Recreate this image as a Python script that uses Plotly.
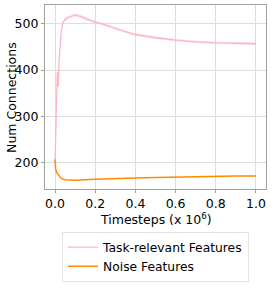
import plotly.graph_objects as go

# Task-relevant features (pink)
task_x = [0.0, 0.004, 0.008, 0.011, 0.013, 0.016, 0.02, 0.025, 0.03, 0.035, 0.04, 0.05, 0.07, 0.1,
          0.13, 0.15, 0.2, 0.25, 0.3, 0.35, 0.4, 0.5, 0.6, 0.7, 0.8, 0.9, 1.0]
task_y = [200, 290, 360, 392, 396, 364, 420, 458, 480, 495, 503, 510, 515, 519,
          516, 512, 504, 498, 490, 483, 477, 470, 465, 461, 459, 458, 457]
task_err = [4, 8, 10, 10, 10, 10, 8, 6, 5, 4, 4, 4, 4, 4,
            4, 4, 3, 3, 3, 3, 3, 3, 3, 3, 3, 3, 3]

# Noise features (orange)
noise_x = [0.0, 0.003, 0.008, 0.012, 0.02, 0.03, 0.05, 0.08, 0.1, 0.2, 0.3, 0.4, 0.5, 0.6, 0.7, 0.8, 0.9, 1.0]
noise_y = [206, 186, 178, 176, 170, 165, 162, 161, 161, 163, 165, 166, 167, 168, 169, 169.5, 170, 170]

x_ticks = [0.0, 0.2, 0.4, 0.6, 0.8, 1.0]
y_ticks = [200, 300, 400, 500]

PINK = "#ffb6c1"
ORANGE = "#ff8c00"
FONT = "DejaVu Sans"
FS = 12.5

fig = go.Figure()
fig.add_trace(go.Scatter(
    x=task_x + task_x[::-1],
    y=[v + e for v, e in zip(task_y, task_err)] + [v - e for v, e in zip(task_y[::-1], task_err[::-1])],
    fill="toself", fillcolor="rgba(255,182,193,0.35)", line=dict(width=0),
    hoverinfo="skip", showlegend=False))
fig.add_trace(go.Scatter(x=task_x, y=task_y, mode="lines", name="Task-relevant Features",
                         line=dict(color=PINK, width=1.3)))
fig.add_trace(go.Scatter(x=noise_x, y=noise_y, mode="lines", name="Noise Features",
                         line=dict(color=ORANGE, width=1.5)))

axis_common = dict(showline=True, linecolor="#a0a0a0", linewidth=1.2, mirror=True,
                   showgrid=True, gridcolor="#dedede", gridwidth=1, zeroline=False,
                   ticks="outside", ticklen=3, tickcolor="#a0a0a0",
                   automargin=False, ticklabeloverflow="allow",
                   tickfont=dict(family=FONT, size=FS, color="black"))

fig.update_layout(
    width=274, height=305,
    margin=dict(l=45, r=8, t=5, b=116),
    paper_bgcolor="white", plot_bgcolor="white",
    font=dict(family=FONT, size=FS, color="black"),
    xaxis=dict(range=[-0.05, 1.05], tickvals=x_ticks, ticktext=[f"{v:.1f}" for v in x_ticks],
               **axis_common),
    yaxis=dict(range=[142, 541], tickvals=y_ticks, **axis_common),
    legend=dict(x=0.077, y=-0.232, xanchor="left", yanchor="top",
                bordercolor="#e3e3e3", borderwidth=1, bgcolor="white",
                font=dict(family=FONT, size=12.3), tracegroupgap=0,
                itemwidth=30),
    annotations=[
        dict(text="Timesteps (x 10<sup>6</sup>)", xref="paper", yref="paper",
             x=0.5, y=-0.11, xanchor="center", yanchor="top", showarrow=False,
             font=dict(family=FONT, size=FS, color="black")),
        dict(text="Num Connections", xref="paper", yref="paper", textangle=-90,
             x=-0.154, y=0.5, xanchor="center", yanchor="middle", showarrow=False,
             font=dict(family=FONT, size=FS, color="black")),
    ],
)

fig.write_html("out.html", config={"displayModeBar": False},
               post_script="document.body.style.margin='0';document.body.style.overflow='hidden';")
